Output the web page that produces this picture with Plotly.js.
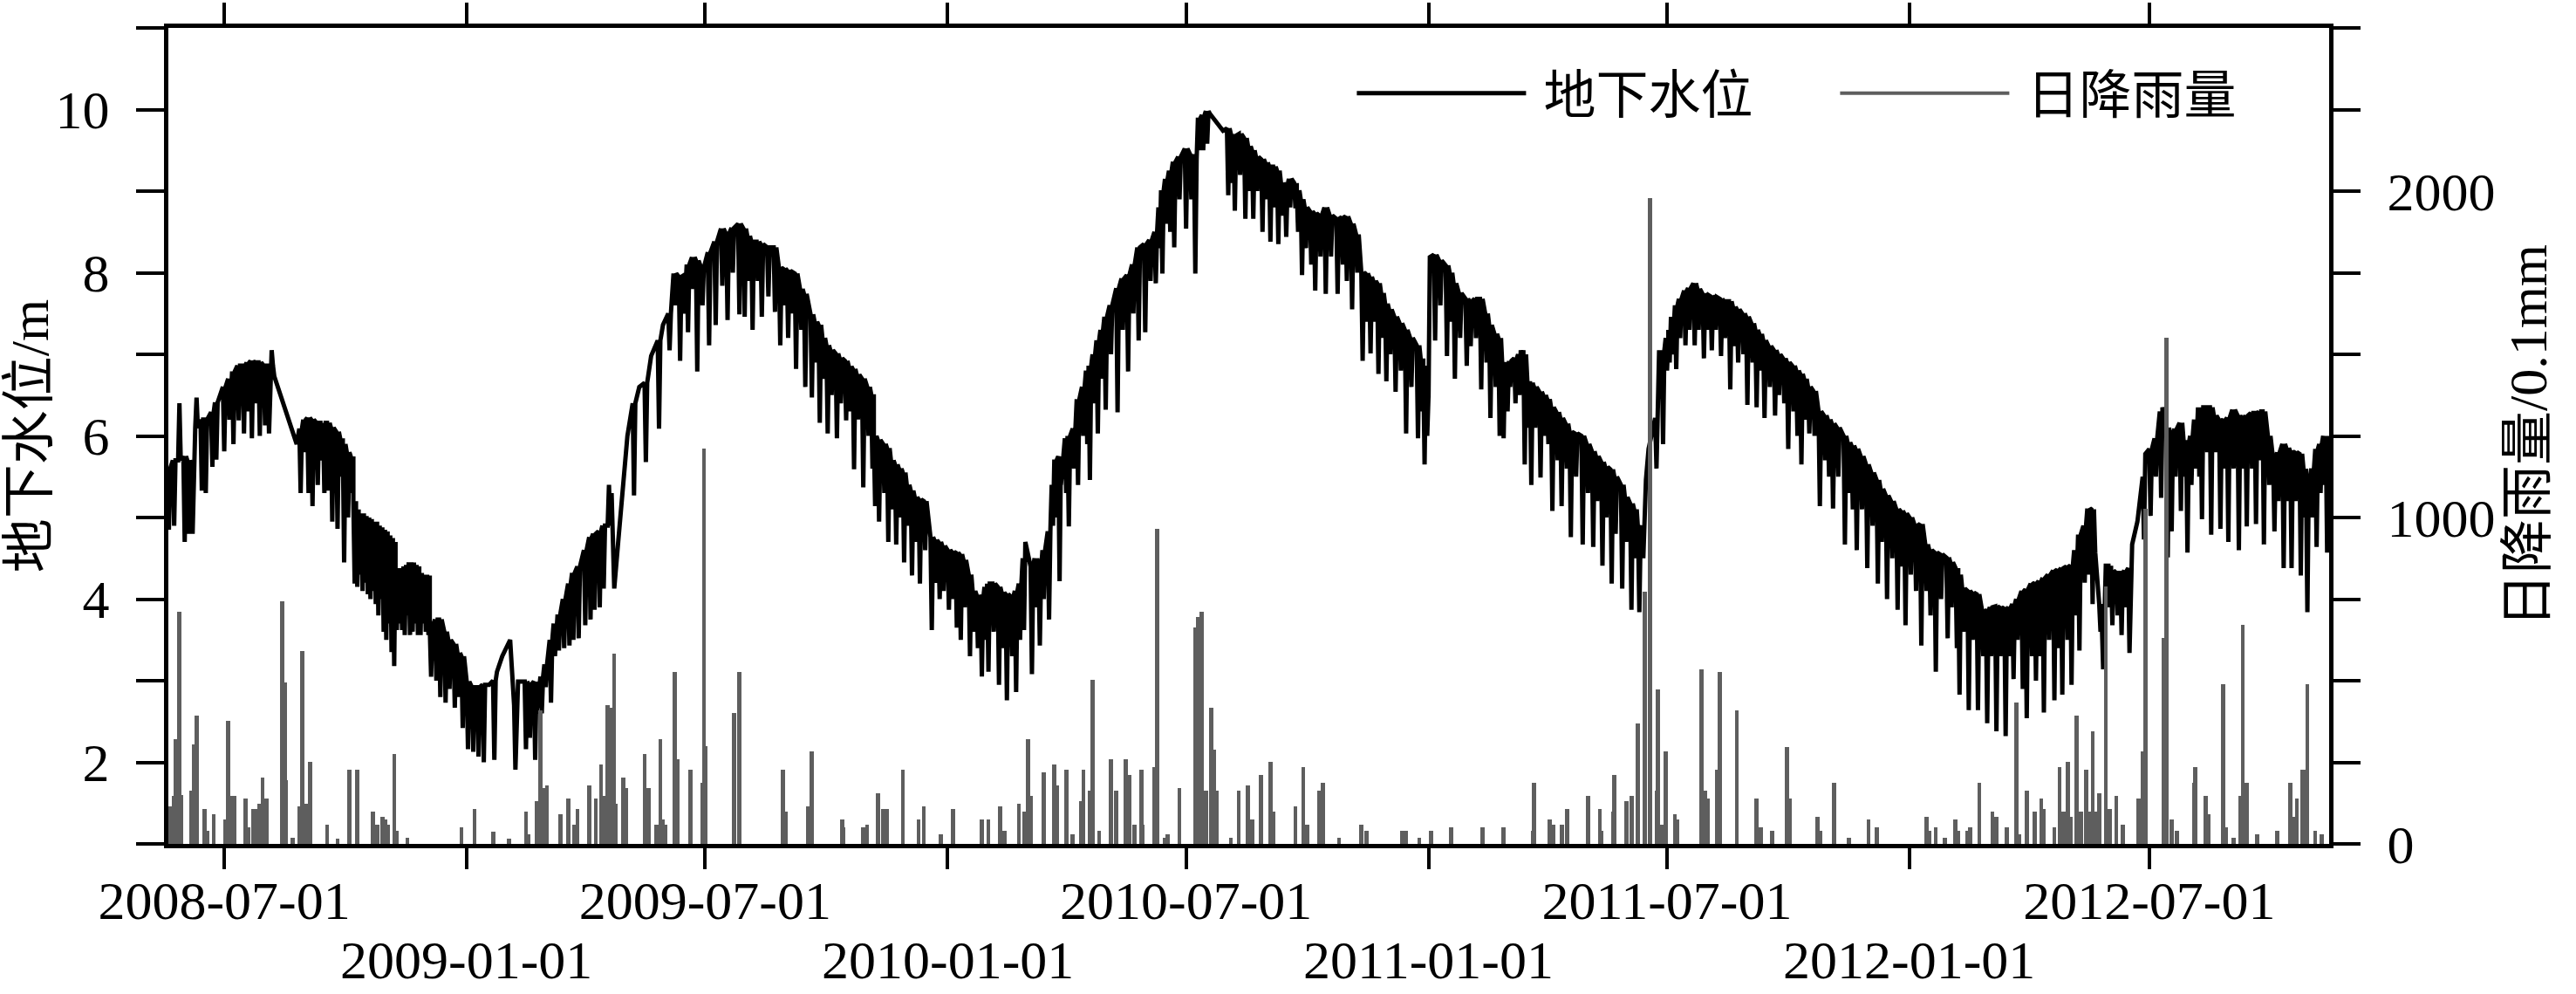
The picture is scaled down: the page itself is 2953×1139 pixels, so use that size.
<!DOCTYPE html>
<html><head><meta charset="utf-8">
<script src="https://cdn.plot.ly/plotly-3.0.1.min.js"></script>
<style>html,body{margin:0;padding:0;background:#fff;}#chart{width:2953px;height:1139px;}</style>
</head><body><div id="chart"></div>
<script>
// day numbers are counted from 2008-07-01 (day 0)
const baseDate = '2008-07-01';
const xStartDay = -42.4;
const xEndDay = 1597.5;
const tickDates = ['2008-07-01','2009-01-01','2009-07-01','2010-01-01','2010-07-01','2011-01-01','2011-07-01','2012-01-01','2012-07-01'];
const tickRow = [1,2,1,2,1,2,1,2,1];
const levelTickVals = [1,2,3,4,5,6,7,8,9,10,11];
const levelTickText = ['','2','','4','','6','','8','','10',''];
const rainTickVals = [0,250,500,750,1000,1250,1500,1750,2000,2250,2500];
const rainTickText = ['0','','','','1000','','','','2000','',''];

// groundwater level readings: [day, level before the drawdown, level at the drawdown]
const levelReadings = [
[-43,5.6,4.85],[-39,5.7,4.9],[-35,5.7,6.4],[-31,5.75,4.7],[-28,5.7,4.8],[-25,5.65,4.8],[-22,6.1,6.47],
[-18,6.2,5.33],[-15,6.2,5.3],[-10,6.29,5.62],[-7,6.41,5.71],[-1,6.6,5.81],[3,6.7,6.2],[6,6.79,5.9],
[10,6.86,6.19],[14,6.86,6.03],[17,6.9,6.3],[20,6.92,5.97],[23,6.9,6.4],[26,6.9,6.0],[30,6.86,6.13],
[33,6.86,6.03],[35,6.86,7.05],[38,6.73,6.73],[55,5.9,5.9],[57,6.09,5.3],[60,6.2,5.8],[63,6.22,5.3],
[66,6.2,5.14],[70,6.16,5.4],[73,6.16,5.7],[75,6.16,5.3],[78,6.16,5.33],[81,6.1,4.95],[85,6.05,4.86],
[88,5.97,5.5],[90,5.9,4.45],[93,5.8,5.0],[96,5.75,5.3],
[98,5.2,4.19],[100,5.1,4.15],[102,5.05,4.3],[104,5.05,4.1],[106,5.02,4.2],[108,5.0,4.06],[110,4.98,4.0],
[112,4.95,4.1],[114,4.95,3.94],[116,4.9,3.8],[118,4.88,4.0],[120,4.85,3.6],[122,4.83,3.5],[124,4.78,3.7],
[126,4.75,3.35],[128,4.7,3.18],[130,4.2,3.62],[132,4.38,3.7],[134,4.38,3.62],[136,4.4,3.56],[138,4.42,3.8],
[140,4.45,3.56],[142,4.45,3.6],[144,4.42,3.7],[146,4.4,3.56],[148,4.32,3.56],[150,4.3,3.7],[152,4.3,3.6],
[154,4.29,3.56],[156,3.65,3.05],[160,3.75,3.0],[163,3.75,2.8],[167,3.6,2.73],[170,3.5,2.9],[174,3.45,2.67],
[177,3.34,2.8],[180,3.3,2.42],[184,2.99,2.16],[188,2.92,2.13],[192,2.92,2.07],[196,2.95,2.0],[201,2.95,2.95],
[204,3.0,2.03],[207,3.11,3.11],[211,3.3,3.3],[217,3.5,3.5],[220,2.7,1.91],[223,2.99,2.99],[228,2.99,2.16],
[231,2.95,2.3],[235,2.99,2.03],[237,2.6,2.6],[240,3.05,2.6],[243,3.2,2.92],[247,3.5,2.73],[250,3.7,3.3],
[253,3.81,3.37],[257,4.0,3.4],[261,4.19,3.43],[264,4.32,3.5],[268,4.4,3.52],[273,4.6,3.68],[277,4.76,3.75],
[280,4.8,3.87],[284,4.83,3.9],[287,4.9,4.13],[291,4.9,5.4],[294,5.3,5.3],[296,4.13,4.13],[299,4.7,4.7],
[302,5.33,5.33],[306,6.0,6.0],
[310,6.4,5.27],[315,6.6,6.6],[319,6.65,5.68],[324,6.98,6.98],[329,7.17,6.09],[333,7.36,7.36],[337,7.5,7.05],
[341,7.99,7.6],[345,7.95,6.92],[348,7.96,7.5],[351,8.1,7.27],[355,8.19,7.8],[358,8.15,6.79],[362,8.06,7.6],
[367,8.25,7.11],[372,8.38,7.36],[377,8.54,7.84],[381,8.47,7.42],[385,8.55,8.0],[390,8.6,7.49],[394,8.54,7.46],
[397,8.45,7.9],[400,8.38,7.3],[404,8.38,7.9],[407,8.35,7.46],[412,8.31,7.71],[417,8.31,7.52],[421,8.06,7.11],
[424,8.05,7.6],[427,8.03,7.2],[430,8.0,7.5],[433,7.99,6.82],[437,7.8,7.3],[440,7.74,6.6],[445,7.49,6.47],
[448,7.4,6.9],[451,7.36,6.16],[454,7.2,6.7],[457,7.11,6.03],[460,7.05,6.5],[464,7.01,5.97],[467,6.95,6.4],
[471,6.92,6.19],[474,6.85,6.3],[477,6.82,5.59],[480,6.75,6.2],[484,6.7,5.37],[488,6.6,6.0],[491,6.51,5.6],
[493,6.0,5.14],[496,5.95,4.95],[500,5.9,5.3],[503,5.85,4.7],[506,5.7,5.1],[509,5.65,4.67],[512,5.6,5.0],
[515,5.55,4.45],[518,5.4,4.9],[521,5.33,4.29],[524,5.25,4.7],[527,5.22,4.19],[531,5.2,4.6],[536,4.76,3.62],
[539,4.72,4.2],[542,4.7,4.0],[545,4.65,4.1],[549,4.6,3.87],[552,4.58,4.0],[555,4.57,3.65],[558,4.55,3.5],
[561,4.48,3.9],[565,4.3,3.3],[568,4.1,3.6],[571,4.05,3.4],[574,4.0,3.05],[577,4.15,3.5],[579,4.19,3.11],
[583,4.19,3.6],[587,4.15,2.95],[590,4.08,3.4],[593,4.06,2.76],[597,4.03,3.3],[600,4.1,2.86],[603,4.19,3.5],
[606,4.5,3.62],[608,4.7,4.7],[612,4.4,3.08],[615,4.5,3.9],[618,4.38,3.43],[621,4.6,4.0],[625,4.83,3.75],
[628,5.4,4.9],[630,5.71,5.0],[633,5.75,4.22],
[635,5.4,5.4],[638,5.97,5.3],[640,6.0,4.89],[644,6.09,5.6],[647,6.45,5.4],[651,6.6,6.0],[654,6.8,5.9],
[656,6.86,5.46],[659,7.0,6.4],[662,7.17,6.03],[665,7.3,6.7],[668,7.46,6.32],[672,7.6,7.0],[677,7.81,6.29],
[681,7.93,7.3],[685,7.97,6.79],[689,8.1,7.5],[693,8.31,7.17],[698,8.35,7.27],[702,8.4,7.9],[706,8.5,7.87],
[709,8.8,8.3],[711,9.01,7.99],[714,9.15,8.6],[717,9.25,8.5],[720,9.36,8.31],[724,9.42,8.9],[729,9.52,8.54],
[733,9.45,8.9],[736,9.39,7.99],[739,9.9,9.5],[742,9.93,9.5],[745,9.98,9.58],[748,9.95,9.95],[758,9.74,9.74],
[761,9.77,8.95],[764,9.7,9.1],[766,9.68,8.76],[770,9.7,9.2],[774,9.65,8.66],[777,9.55,9.0],[780,9.5,8.66],
[783,9.42,9.0],[787,9.39,8.5],[790,9.35,8.9],[793,9.3,8.38],[796,9.3,8.8],[799,9.25,8.35],[802,9.1,8.7],
[805,9.07,8.44],[808,9.15,8.8],[812,9.1,8.79],[814,9.01,8.5],[817,8.9,7.97],[820,8.8,8.3],[824,8.75,8.1],
[827,8.73,7.78],[831,8.7,8.2],[835,8.8,7.74],[839,8.7,8.2],[844,8.66,7.74],[848,8.68,8.1],[851,8.69,7.9],
[855,8.6,7.55],[859,8.47,8.0],[863,8.0,6.92],[866,7.99,7.4],[869,7.95,7.01],[872,7.9,7.4],[875,7.87,6.76],
[878,7.75,7.2],[881,7.62,6.67],[884,7.55,7.0],[888,7.46,6.54],[892,7.38,6.8],[896,7.3,6.03],[900,7.2,6.6],
[905,7.11,5.97],[908,6.95,6.3],[910,6.86,5.65],[912,6.5,6.0],[914,6.47,6.47],[915,8.19,8.19],[918,8.22,7.17],
[922,8.15,7.6],[927,8.09,6.98],[930,8.0,7.4],[933,7.87,6.7],[937,7.75,7.2],[942,7.68,6.86],[945,7.65,7.1],
[949,7.68,7.2],[953,7.68,6.57],[957,7.5,6.9],[960,7.36,6.22],[964,7.25,6.6],[967,7.2,6.0],
[970,6.86,5.97],[973,6.9,6.3],[975,6.92,6.6],[979,6.95,6.4],[982,7.0,6.5],[984,7.05,6.9],[986,7.0,5.65],
[989,6.67,6.1],[991,6.65,5.4],[994,6.6,6.1],[998,6.54,5.49],[1001,6.5,6.0],[1004,6.45,5.9],[1007,6.35,5.08],
[1011,6.29,5.7],[1014,6.22,5.14],[1018,6.15,5.6],[1021,6.05,4.76],[1025,6.03,5.5],[1030,6.0,4.67],
[1034,5.9,5.3],[1038,5.81,4.64],[1041,5.75,5.2],[1045,5.68,4.41],[1048,5.62,5.0],[1052,5.59,4.19],
[1055,5.5,4.8],[1060,5.4,4.13],[1063,5.25,4.7],[1067,5.17,3.87],[1070,5.1,4.5],[1073,4.85,3.84],
[1076,4.9,4.5],[1079,5.46,5.46],[1081,5.84,5.84],[1083,6.0,6.0],[1086,6.22,5.6],[1089,7.05,6.5],
[1091,7.05,5.9],[1094,7.2,6.8],[1096,7.3,6.9],[1098,7.46,7.0],[1101,7.6,6.82],[1104,7.68,7.2],
[1108,7.78,7.11],[1111,7.81,7.3],[1115,7.87,7.11],[1118,7.8,7.3],[1122,7.74,6.95],[1125,7.72,7.3],
[1128,7.71,7.05],[1131,7.7,7.3],[1135,7.68,6.98],[1138,7.65,7.2],[1142,7.65,6.57],[1145,7.58,7.1],
[1148,7.55,6.9],[1152,7.5,7.0],[1155,7.46,6.38],[1159,7.38,6.9],[1162,7.3,6.35],[1165,7.25,6.8],
[1168,7.17,6.22],[1172,7.1,6.6],[1176,7.05,6.25],[1179,7.0,6.5],[1183,6.95,6.4],[1186,6.9,5.84],
[1190,6.86,6.3],[1193,6.8,6.0],[1196,6.76,5.65],[1199,6.7,6.2],[1202,6.6,6.03],[1206,6.55,6.0],
[1210,6.3,5.14],[1214,6.25,5.7],[1217,6.2,5.5],[1220,6.15,5.11],[1224,6.1,5.5],[1229,6.0,4.67],
[1232,5.92,5.3],[1235,5.88,5.1],[1238,5.84,4.6],[1242,5.75,5.1],[1246,5.65,4.38],[1250,5.55,4.9],
[1254,5.46,4.19],[1257,5.35,4.7],[1261,5.27,4.0],[1265,5.2,4.5],[1269,5.1,3.87],[1272,5.08,4.4],
[1275,5.05,3.68],[1279,5.0,4.3],[1283,4.9,4.1],
[1287,4.92,3.43],[1291,4.67,4.1],[1294,4.6,3.8],[1298,4.57,3.11],[1302,4.55,4.0],[1307,4.51,3.52],
[1310,4.45,3.9],[1314,4.38,3.4],[1316,4.3,2.83],[1319,4.13,3.6],[1323,4.1,2.64],[1326,4.08,3.5],
[1330,4.06,2.64],[1334,3.87,3.3],[1337,3.85,2.48],[1340,3.9,3.3],[1344,3.91,2.38],[1347,3.9,3.3],
[1351,3.88,2.32],[1354,3.9,3.3],[1357,3.94,3.02],[1360,4.0,3.5],[1364,4.1,2.9],[1367,4.12,2.54],
[1371,4.19,3.3],[1374,4.2,3.0],[1377,4.22,3.3],[1380,4.26,2.61],[1384,4.3,3.5],[1388,4.35,2.76],
[1391,4.36,3.4],[1394,4.38,2.83],[1398,4.4,3.5],[1401,4.41,2.95],[1404,4.6,3.8],[1407,4.79,3.37],
[1411,4.9,4.2],[1414,5.11,4.3],[1417,5.1,3.94],[1420,4.57,4.57],[1423,3.94,3.6],[1425,3.7,3.14],
[1428,4.41,4.41],[1430,4.41,3.9],[1432,4.35,3.68],[1436,4.32,3.8],[1439,4.32,3.56],[1442,4.35,3.9],
[1445,4.38,3.34],[1448,4.67,4.67],[1452,4.95,4.95],[1456,5.5,4.73],[1458,5.78,5.78],[1461,5.84,5.02],
[1465,5.97,5.5],[1469,6.3,5.24],[1471,6.35,6.35],[1474,6.1,4.51],[1477,6.0,4.83],[1480,6.09,5.5],
[1484,6.16,5.08],[1487,5.95,5.5],[1489,5.9,4.57],[1492,6.0,5.4],[1495,6.2,5.6],[1498,6.35,5.5],
[1500,6.35,4.98],[1504,6.35,5.8],[1507,6.35,4.79],[1510,6.25,5.8],[1514,6.19,4.86],[1517,6.2,5.6],
[1520,6.22,4.7],[1524,6.32,5.6],[1528,6.25,4.6],[1531,6.22,5.6],[1534,6.25,4.89],[1538,6.28,5.6],
[1541,6.28,4.92],[1544,6.3,5.7],[1547,6.3,4.67],[1551,6.0,5.4],[1555,5.71,4.83],[1558,5.8,5.2],
[1562,5.9,4.38],[1565,5.85,5.2],[1568,5.81,4.38],[1571,5.8,5.2],[1575,5.78,4.29],[1578,5.6,5.0],
[1580,5.4,3.84],[1584,5.6,5.0],[1587,5.84,4.64],[1590,5.9,5.3],[1593,6.0,5.4],[1595,6.0,4.57],[1597,5.5,5.5]
];

// daily rainfall readings (0.1 mm): [day, amount]
const rainReadings = [
[-42,116],[-40,116],[-38,148],[-37,322],[-34,711],[-33,150],[-25,163],[-23,306],[-21,393],[-15,108],[-13,40],
[-8,92],[1,76],[3,378],[5,148],[8,148],[16,140],[18,52],[22,108],[25,108],[27,124],[29,203],[32,140],
[44,742],[46,496],[47,195],[52,20],[57,116],[59,592],[62,124],[65,251],[78,60],[86,15],[95,227],[101,227],
[113,100],[116,60],[120,84],[122,76],[124,60],[129,275],[131,40],[139,20],[180,52],[190,108],[204,37],
[216,15],[229,100],[231,30],[237,132],[240,409],[242,171],[245,179],[255,92],[261,140],[266,60],[268,108],
[277,179],[282,140],[286,243],[289,148],[291,425],[293,417],[296,584],[297,124],[303,203],[305,171],
[319,275],[322,171],[328,60],[331,322],[333,76],[335,60],[342,528],[344,259],[354,227],[363,187],
[364,1210],[365,300],[387,401],[391,528],[424,227],[426,100],[443,116],[446,283],[469,76],[470,50],
[485,50],[488,60],[496,155],[500,108],[503,108],[515,227],[527,76],[531,116],[544,30],[553,108],[575,76],
[580,76],[589,116],[592,40],[603,124],[607,100],[610,322],[612,148],[622,219],[630,243],[632,180],
[639,227],[644,30],[650,132],[652,227],[657,163],[659,504],[664,40],[673,259],[677,163],[684,259],
[687,211],[691,60],[696,227],[697,60],[706,235],[708,964],[714,20],[716,30],[725,171],[737,663],
[739,695],[742,711],[745,163],[749,417],[751,290],[753,163],[764,20],[770,163],[777,179],[780,76],
[787,211],[794,251],[796,100],[813,116],[819,235],[822,60],[831,163],[834,187],[846,20],[863,60],
[867,40],[894,40],[897,40],[907,20],[916,40],[931,50],[955,50],[971,50],[993,40],[994,187],[1006,76],
[1009,60],[1015,60],[1019,108],[1035,148],[1044,108],[1045,40],[1054,100],[1055,211],[1064,132],
[1068,148],[1073,370],[1078,774],[1082,1979],[1087,163],[1088,473],[1091,60],[1094,283],[1101,92],
[1103,76],[1121,536],[1124,163],[1126,140],[1133,227],[1135,528],[1148,409],[1163,140],[1166,50],
[1175,40],[1186,298],[1188,140],[1209,84],[1211,40],[1222,187],[1233,20],[1248,76],[1254,50],
[1292,84],[1294,40],[1299,50],[1306,20],[1314,76],[1316,40],[1323,40],[1325,50],[1332,187],[1342,100],
[1345,84],[1353,50],[1360,433],[1362,30],[1368,163],[1374,100],[1379,140],[1381,108],[1389,50],
[1393,235],[1396,100],[1399,251],[1401,84],[1406,393],[1409,100],[1413,227],[1415,100],[1418,346],
[1420,100],[1423,155],[1428,790],[1431,108],[1436,148],[1441,60],[1453,140],[1456,283],[1458,1028],
[1472,631],[1474,1551],[1478,76],[1482,40],[1495,187],[1496,235],[1504,148],[1506,92],[1517,488],
[1519,50],[1525,20],[1530,148],[1532,671],[1535,187],[1543,30],[1558,40],[1568,187],[1570,84],
[1573,140],[1577,227],[1579,227],[1581,488],[1587,40],[1592,30]
];

const DAY_MS = 86400000;
const baseMs = Date.parse(baseDate + 'T00:00:00Z');
function dayToDate(d) {
  return new Date(baseMs + d * DAY_MS).toISOString().slice(0, 19).replace('T', ' ');
}

const levelX = [], levelY = [];
levelReadings.forEach(function (r) {
  levelX.push(dayToDate(r[0])); levelY.push(r[1]);
  if (r[2] !== r[1]) {
    levelX.push(dayToDate(r[0] + 1)); levelY.push(r[2]);
    levelX.push(dayToDate(r[0] + 2)); levelY.push(r[1]);
  }
});
const rainX = rainReadings.map(function (r) { return dayToDate(r[0]); });
const rainY = rainReadings.map(function (r) { return r[1]; });

const serif = 'Liberation Serif, Times New Roman, serif';
const mixed = 'Liberation Serif, Noto Sans CJK SC, serif';
const gray = '#5e5e5e';
const NB = '\u00a0';

// first row labels on the axis, second row (staggered) labels as text under their ticks
const tickText = tickDates.map(function (t, i) { return tickRow[i] === 1 ? t : ''; });
const lowerLabels = tickDates.filter(function (t, i) { return tickRow[i] === 2; }).map(function (t) {
  return { text: t, x: t, xref: 'x', y: 0, yref: 'paper', yanchor: 'top', xanchor: 'center',
    yshift: -97, showarrow: false, font: { family: serif, size: 62, color: '#000' } };
});

const traces = [
  { type: 'scatter', mode: 'lines', name: NB + '地下水位' + NB.repeat(6), x: levelX, y: levelY, yaxis: 'y',
    line: { color: '#000', width: 5 }, hoverinfo: 'skip' },
  { type: 'bar', name: '日降雨量', x: rainX, y: rainY, yaxis: 'y2', showlegend: false,
    width: 3.1 * DAY_MS, marker: { color: gray, line: { width: 0 } }, hoverinfo: 'skip' },
  { type: 'scatter', mode: 'lines', name: NB + '日降雨量', x: [null], y: [null], yaxis: 'y2',
    line: { color: gray, width: 4 }, hoverinfo: 'skip' }
];

const layout = {
  width: 2953, height: 1139,
  margin: { l: 193, r: 283, t: 32, b: 172 },
  paper_bgcolor: '#fff', plot_bgcolor: '#fff',
  showlegend: true,
  legend: { orientation: 'h', x: 0.548, xanchor: 'left', y: 0.92, yanchor: 'middle',
    font: { family: mixed, size: 60, color: '#000' }, bgcolor: 'rgba(0,0,0,0)',
    itemwidth: 194, tracegroupgap: 0 },
  bargap: 0,
  annotations: lowerLabels,
  xaxis: {
    type: 'date', range: [dayToDate(xStartDay), dayToDate(xEndDay)],
    tickmode: 'array', tickvals: tickDates, ticktext: tickText, tickangle: 0,
    ticks: 'outside', ticklen: 24, tickwidth: 4, tickcolor: '#000',
    showline: true, linewidth: 5, linecolor: '#000', mirror: 'ticks',
    showgrid: false, zeroline: false, ticklabelstandoff: -17,
    tickfont: { family: serif, size: 62, color: '#000' }
  },
  yaxis: {
    range: [1, 11], tickmode: 'array', tickvals: levelTickVals, ticktext: levelTickText,
    ticks: 'outside', ticklen: 32, tickwidth: 4, tickcolor: '#000',
    showline: true, linewidth: 5, linecolor: '#000',
    showgrid: false, zeroline: false, ticklabelstandoff: 18,
    tickfont: { family: serif, size: 62, color: '#000' },
    title: { text: '地下水位/m', font: { family: mixed, size: 62, color: '#000' }, standoff: 20 }
  },
  yaxis2: {
    overlaying: 'y', side: 'right', anchor: 'x',
    range: [0, 2500], tickmode: 'array', tickvals: rainTickVals, ticktext: rainTickText,
    ticks: 'outside', ticklen: 31, tickwidth: 4, tickcolor: '#000',
    showline: true, linewidth: 5, linecolor: '#000',
    showgrid: false, zeroline: false, ticklabelstandoff: 18,
    tickfont: { family: serif, size: 62, color: '#000' },
    title: { text: '日降雨量/0.1mm', font: { family: mixed, size: 62, color: '#000' }, standoff: 18 }
  }
};

Plotly.newPlot('chart', traces, layout, { staticPlot: true, displayModeBar: false });
</script>
</body></html>
